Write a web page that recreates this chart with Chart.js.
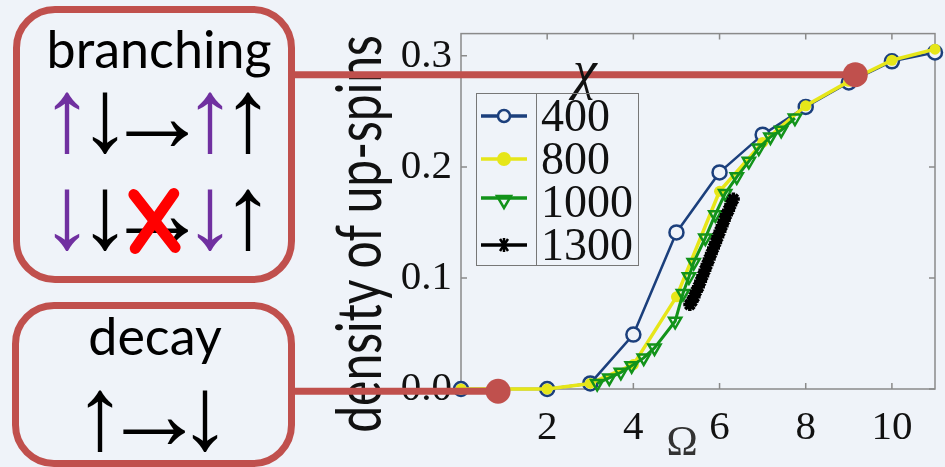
<!DOCTYPE html>
<html>
<head>
<meta charset="utf-8">
<script src="https://cdn.jsdelivr.net/npm/chart.js@4.4.0/dist/chart.umd.min.js"></script>
<style>
  :root { --serif: serif; }
  html, body { margin: 0; padding: 0; background: #eff3f9; }
  #wrap { position: relative; width: 945px; height: 467px; overflow: hidden; }
  #chart { position: absolute; left: 0; top: 0; z-index: 1; }
  .box { position: absolute; border: 7px solid #c0504d; border-radius: 42px; box-sizing: border-box; }
  .word { position: absolute; font-family: Lato, sans-serif; font-size: 52px; line-height: 52px; color: #000; transform: translateX(-50%); white-space: nowrap; }
  .arr { position: absolute; font-family: 'Liberation Sans', sans-serif; font-size: 104px; line-height: 104px; transform: translateX(-50%); color: #000; }
  .pur { color: #7030a0; }
  .xbar { position: absolute; width: 11px; height: 78px; background: #ff0000; border-radius: 6px; left: 149px; top: 182px; }
  #ytitle { position: absolute; z-index: 0; left: 138px; top: 209px; width: 440px; height: 50px; line-height: 50px;
            text-align: center; font-family: Lato, sans-serif; font-size: 48px; color: #111; white-space: nowrap;
            transform: rotate(-90deg) scaleY(1.3); transform-origin: 50% 50%; }
  .serif { font-family: var(--serif); }
  #xtitle { position: absolute; z-index: 2; left: 682px; top: 420px; transform: translateX(-50%);
            font-size: 42px; line-height: 42px; color: #333; }
  #chi { position: absolute; z-index: 2; left: 585px; top: 44px; transform: translateX(-50%);
         font-style: italic; font-size: 54px; line-height: 52px; color: #111; }
  #legend { position: absolute; z-index: 2; left: 476px; top: 93px; width: 163px; height: 173px; box-sizing: border-box;
            border: 1.5px solid #777; }
  #legend .div { position: absolute; left: 59px; top: 0; bottom: 0; border-left: 1.5px solid #777; }
  #legend .row { position: absolute; left: 0; height: 44px; width: 160px; }
  #legend svg { position: absolute; left: 4px; top: 12px; }
  #legend span { position: absolute; left: 64px; top: 0; font-size: 46px; line-height: 44px; color: #111; }
</style>
</head>
<body>
<div id="wrap">
  <div id="ytitle">density of up-spins</div>
  <canvas id="chart" width="945" height="467"></canvas>

  <div class="box" style="left:13px; top:6px; width:282px; height:277px;"></div>
  <div class="word" style="left:159px; top:22px;">branching</div>
  <div class="arr pur" style="left:67px; top:63px;">↑</div>
  <div class="arr" style="left:105px; top:63px;">↓</div>
  <div class="arr" style="left:157px; top:63px;">→</div>
  <div class="arr pur" style="left:210px; top:63px;">↑</div>
  <div class="arr" style="left:248px; top:63px;">↑</div>
  <div class="arr pur" style="left:67px; top:160px;">↓</div>
  <div class="arr" style="left:105px; top:160px;">↓</div>
  <div class="arr" style="left:157px; top:160px;">→</div>
  <div class="arr pur" style="left:210px; top:160px;">↓</div>
  <div class="arr" style="left:248px; top:160px;">↑</div>
  <div class="xbar" style="transform: rotate(-38deg);"></div>
  <div class="xbar" style="transform: rotate(35deg);"></div>

  <div class="box" style="left:12px; top:302px; width:283px; height:165px;"></div>
  <div class="word" style="left:155px; top:309px;">decay</div>
  <div class="arr" style="left:100px; top:361px;">↑</div>
  <div class="arr" style="left:154px; top:361px;">→</div>
  <div class="arr" style="left:205px; top:361px;">↓</div>

  <div id="xtitle" class="serif">Ω</div>
  <div id="chi" class="serif">χ</div>
  <div id="legend">
    <div class="div"></div>
    <div class="row" style="top:0px;">
      <svg width="50" height="20"><line x1="0" y1="10" x2="46" y2="10" stroke="#1b3f7c" stroke-width="3.5"/><circle cx="23" cy="10" r="6" fill="#eff3f9" stroke="#1b3f7c" stroke-width="2.5"/></svg>
      <span class="serif">400</span>
    </div>
    <div class="row" style="top:43px;">
      <svg width="50" height="20"><line x1="0" y1="10" x2="46" y2="10" stroke="#e6e619" stroke-width="3.5"/><circle cx="23" cy="10" r="7" fill="#e6e619"/></svg>
      <span class="serif">800</span>
    </div>
    <div class="row" style="top:86px;">
      <svg width="50" height="20"><line x1="0" y1="6" x2="46" y2="6" stroke="#12931a" stroke-width="3.5"/><polygon points="16,4 30,4 23,16" fill="none" stroke="#12931a" stroke-width="2.5"/></svg>
      <span class="serif">1000</span>
    </div>
    <div class="row" style="top:129px;">
      <svg width="50" height="20"><line x1="0" y1="10" x2="46" y2="10" stroke="#000" stroke-width="3.5"/><path d="M19 4 L27 16 M27 4 L19 16 M23 3 L23 17" stroke="#000" stroke-width="2.5"/></svg>
      <span class="serif">1300</span>
    </div>
  </div>
</div>

<script>
// bond dimension chi = 400
const omega400 = [0, 2, 3, 4, 5, 6, 7, 8, 9, 10, 11];
const rho400 = [0, 0, 0.005, 0.049, 0.141, 0.195, 0.229, 0.254, 0.276, 0.295, 0.303];

// chi = 800
const omega800 = [0, 2, 3, 4, 5, 6, 7, 8, 9, 10, 11];
const rho800 = [0, 0, 0.005, 0.022, 0.083, 0.178, 0.222, 0.255, 0.277, 0.296, 0.306];

// chi = 1000
const omega1000 = [3.16, 3.44, 3.71, 3.96, 4.24, 4.49, 4.97, 5.15, 5.29, 5.40, 5.67, 5.90, 6.13, 6.40, 6.68, 6.91, 7.18, 7.43, 7.75];
const rho1000 = [0.005, 0.010, 0.015, 0.021, 0.028, 0.037, 0.061, 0.086, 0.101, 0.114, 0.136, 0.157, 0.176, 0.191, 0.205, 0.217, 0.227, 0.233, 0.244];

// chi = 1300
const omega1300 = [5.31, 5.36, 5.41, 5.46, 5.51, 5.56, 5.61, 5.66, 5.71, 5.76, 5.81, 5.86, 5.91, 5.96, 6.01, 6.06, 6.11, 6.16, 6.21, 6.26, 6.32];
const rho1300 = [0.076, 0.079, 0.083, 0.088, 0.092, 0.097, 0.102, 0.107, 0.112, 0.117, 0.122, 0.127, 0.132, 0.137, 0.142, 0.147, 0.152, 0.157, 0.161, 0.166, 0.171];

const xTicks = [2, 4, 6, 8, 10];
const yTicks = [0, 0.1, 0.2, 0.3];

// where the two callouts point to (data coords)
const calloutOmega = [9.15, 0.86];
const calloutRho = [0.283, -0.002];

const pts = (xs, ys) => xs.map((x, i) => ({ x, y: ys[i] }));

// pick whatever Times-like face is actually installed
function hasFont(name) {
    const c = document.createElement('canvas').getContext('2d');
    const s = 'mmmwwlli0.31000χΩ';
    for (const base of ['monospace', 'sans-serif']) {
        c.font = `40px ${base}`;
        const a = c.measureText(s).width;
        c.font = `40px '${name}', ${base}`;
        if (c.measureText(s).width !== a) return true;
    }
    return false;
}
const serifName = ['Liberation Serif', 'Tinos', 'Times New Roman', 'Nimbus Roman', 'Nimbus Roman No9 L',
    'FreeSerif', 'DejaVu Serif', 'Noto Serif', 'Times', 'Georgia'].find(hasFont);
const serifStack = serifName ? `'${serifName}', serif` : 'serif';
document.documentElement.style.setProperty('--serif', serifStack);

const frame = {
    id: 'frame',
    beforeDatasetsDraw(chart) {
        const { ctx, chartArea: a, scales: { x, y } } = chart;
        ctx.save();
        ctx.strokeStyle = '#8a8a8a';
        ctx.lineWidth = 1.5;
        ctx.strokeRect(a.left, a.top, a.width, a.height);
        ctx.beginPath();
        x.ticks.forEach(t => {
            const px = x.getPixelForValue(t.value);
            ctx.moveTo(px, a.bottom); ctx.lineTo(px, a.bottom - 6);
            ctx.moveTo(px, a.top); ctx.lineTo(px, a.top + 6);
        });
        y.ticks.forEach(t => {
            const py = y.getPixelForValue(t.value);
            ctx.moveTo(a.left, py); ctx.lineTo(a.left + 6, py);
            ctx.moveTo(a.right, py); ctx.lineTo(a.right - 6, py);
        });
        ctx.stroke();
        ctx.restore();
    }
};

const callouts = {
    id: 'callouts',
    afterDraw(chart) {
        const { ctx, scales: { x, y } } = chart;
        ctx.save();
        ctx.strokeStyle = '#c0504d';
        ctx.fillStyle = '#c0504d';
        ctx.lineWidth = 7;
        calloutOmega.forEach((w, i) => {
            const px = x.getPixelForValue(w);
            const py = y.getPixelForValue(calloutRho[i]);
            ctx.beginPath();
            ctx.moveTo(292, py);
            ctx.lineTo(px, py);
            ctx.stroke();
            ctx.beginPath();
            ctx.arc(px, py, 12.5, 0, Math.PI * 2);
            ctx.fill();
        });
        ctx.restore();
    }
};

const tickFont = { family: serifStack, size: 41 };

new Chart(document.getElementById('chart'), {
    type: 'line',
    data: {
        datasets: [
            {
                label: '400', data: pts(omega400, rho400), order: 4,
                borderColor: '#1b3f7c', borderWidth: 2.5, backgroundColor: '#eff3f9',
                pointStyle: 'circle', pointRadius: 7, pointBorderWidth: 2.5, clip: false
            },
            {
                label: '800', data: pts(omega800, rho800), order: 3,
                borderColor: '#e6e619', borderWidth: 3.5, backgroundColor: '#e6e619',
                pointStyle: 'circle', pointRadius: 5.5, pointBorderWidth: 0, clip: false
            },
            {
                label: '1000', data: pts(omega1000, rho1000), order: 2,
                borderColor: '#12931a', borderWidth: 3, backgroundColor: 'rgba(0,0,0,0)',
                pointStyle: 'triangle', pointRotation: 180, pointRadius: 7, pointBorderWidth: 2.5, clip: false
            },
            {
                label: '1300', data: pts(omega1300, rho1300), order: 1,
                borderColor: '#000', borderWidth: 4, backgroundColor: '#000',
                pointStyle: 'star', pointRadius: 6.5, pointBorderWidth: 3.5, clip: false
            }
        ]
    },
    options: {
        responsive: false,
        animation: false,
        events: [],
        layout: { padding: { left: 0, right: 3, top: 33, bottom: 0 } },
        plugins: { legend: { display: false }, tooltip: { enabled: false } },
        scales: {
            x: {
                type: 'linear', min: 0, max: 11,
                afterBuildTicks: s => { s.ticks = xTicks.map(v => ({ value: v })); },
                afterFit: s => { s.height = 78; },
                grid: { display: false, drawTicks: false },
                border: { display: false },
                ticks: { font: tickFont, color: '#111', padding: 15, maxRotation: 0 }
            },
            y: {
                type: 'linear', min: 0, max: 0.32,
                afterBuildTicks: s => { s.ticks = yTicks.map(v => ({ value: v })); },
                afterFit: s => { s.width = 461; },
                grid: { display: false, drawTicks: false },
                border: { display: false },
                ticks: { font: tickFont, color: '#111', padding: 9, callback: v => v.toFixed(1) }
            }
        }
    },
    plugins: [frame, callouts]
});
</script>
</body>
</html>
